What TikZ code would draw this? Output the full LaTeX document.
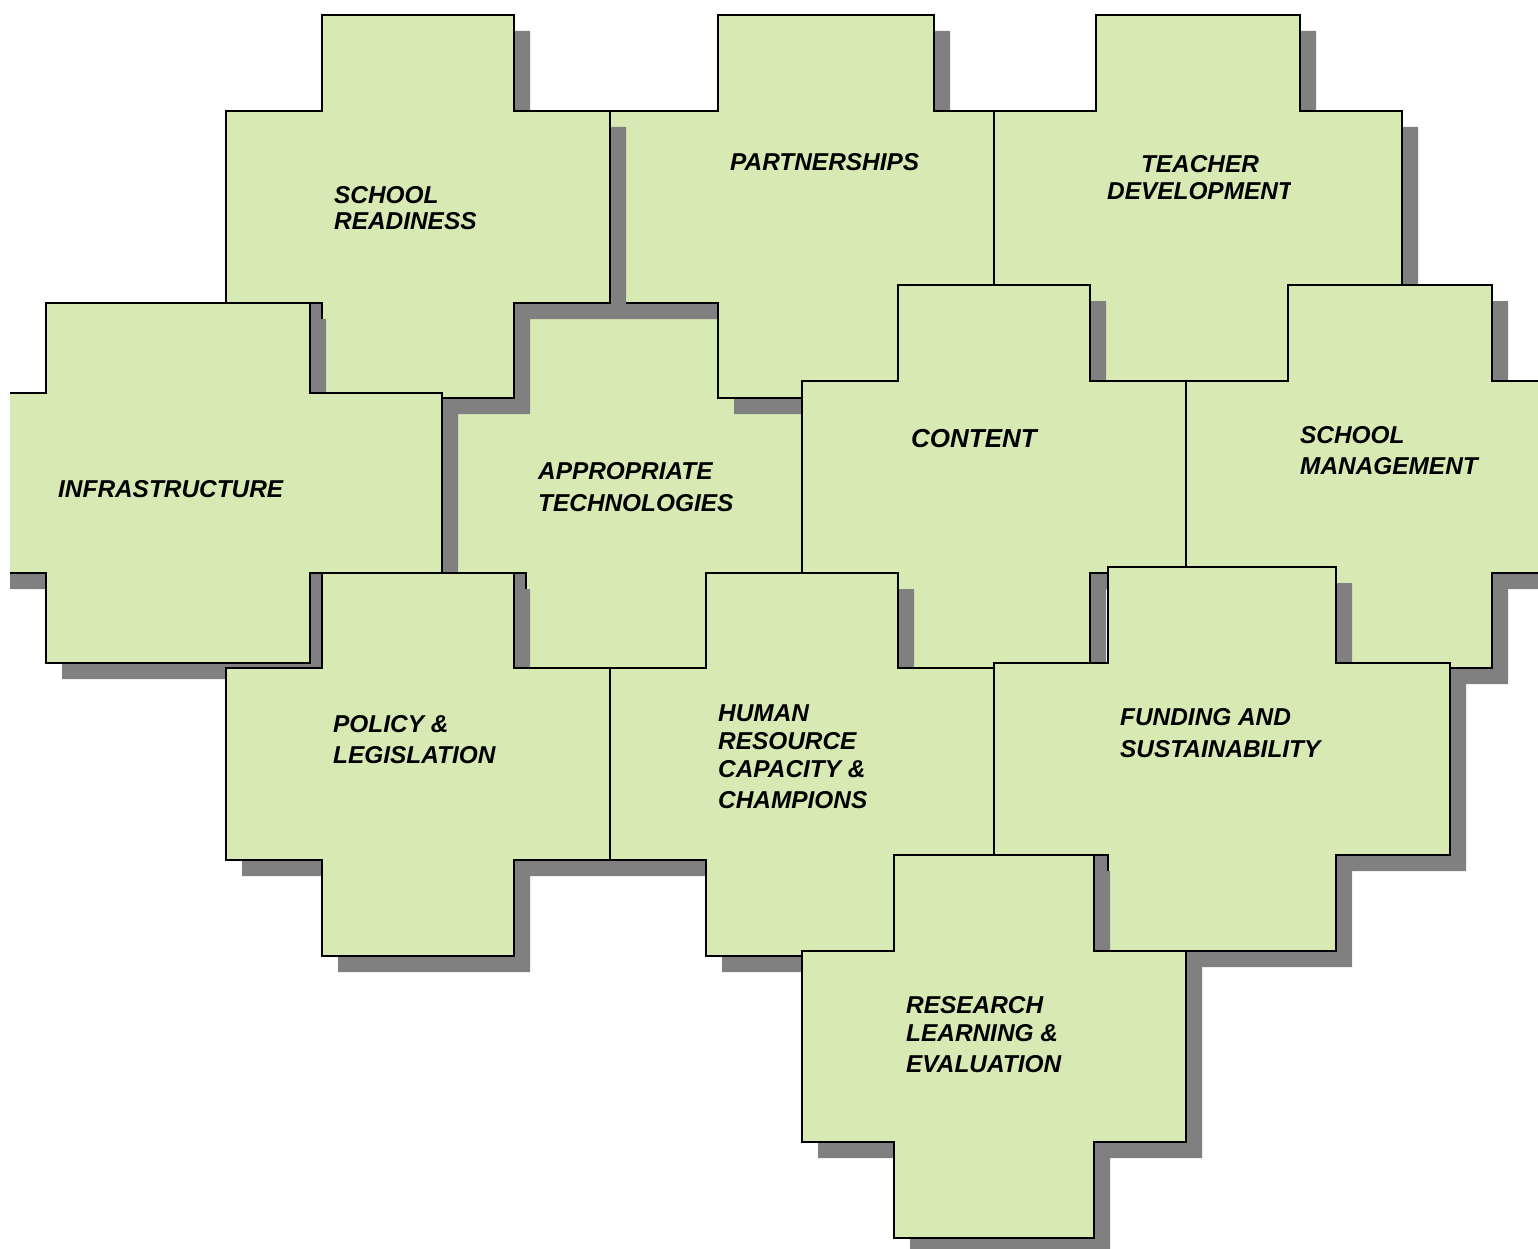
\documentclass[tikz,border=0pt]{standalone}
\usepackage{fontspec}
\setmainfont{Liberation Sans}
\definecolor{leaf}{RGB}{216,234,180}
\definecolor{castgray}{RGB}{128,128,128}
\tikzset{
  tile/.style={fill=leaf, draw=black, line width=1.3pt},
  tilecast/.style={fill=castgray},
  tilelabel/.style={inner sep=0pt, anchor=base west, align=left,
    font=\fontsize{24.4}{28}\selectfont\bfseries\itshape},
}
% cross tile: tab left, tab right, body left, body right, top, body top, body bottom, bottom
\newcommand{\crosstile}[8]{%
  \fill[tilecast, shift={(16,16)}] (#1,#5) -- (#2,#5) -- (#2,#6) -- (#4,#6) -- (#4,#7) -- (#2,#7)
    -- (#2,#8) -- (#1,#8) -- (#1,#7) -- (#3,#7) -- (#3,#6) -- (#1,#6) -- cycle;
  \filldraw[tile] (#1,#5) -- (#2,#5) -- (#2,#6) -- (#4,#6) -- (#4,#7) -- (#2,#7)
    -- (#2,#8) -- (#1,#8) -- (#1,#7) -- (#3,#7) -- (#3,#6) -- (#1,#6) -- cycle;}
\begin{document}
\begin{tikzpicture}[x=1pt, y=-1pt]
    \useasboundingbox (0,0) rectangle (1538,1249);
    \clip (10,0) rectangle (1538,1249);

    % tiles, back to front
    \crosstile{526}{718}{442}{802}{305}{398}{573}{668}   % appropriate technologies
    \crosstile{718}{934}{610}{994}{15}{111}{303}{398}    % partnerships
    \crosstile{322}{514}{226}{610}{15}{111}{303}{398}    % school readiness
    \crosstile{1096}{1300}{994}{1402}{15}{111}{303}{398} % teacher development
    \crosstile{46}{310}{-50}{442}{303}{393}{573}{663}    % infrastructure
    \crosstile{322}{514}{226}{610}{573}{668}{860}{956}   % policy
    \crosstile{898}{1090}{802}{1186}{285}{381}{573}{668} % content
    \crosstile{1288}{1492}{1186}{1594}{285}{381}{573}{668} % school management
    \crosstile{706}{898}{610}{994}{573}{668}{860}{956}   % human resource
    \crosstile{1108}{1336}{994}{1450}{567}{663}{855}{951} % funding
    \crosstile{894}{1094}{802}{1186}{855}{951}{1142}{1238} % research

    % labels (multi-line ones sit on their last baseline)
    \node[tilelabel] (readiness) at (334,230) {SCHOOL\\[-2pt]READINESS};
    \node[tilelabel] (partners) at (730,171) {PARTNERSHIPS};
    \begin{scope}
        \clip (1000,100) rectangle (1290,260);
        \node[tilelabel, anchor=base, align=center] (teacher) at (1200,200) {TEACHER\\[-1pt]DEVELOPMENT};
    \end{scope}
    \node[tilelabel] (infra) at (58,497) {INFRASTRUCTURE};
    \node[tilelabel] (apptech) at (538,511) {APPROPRIATE\\[4pt]TECHNOLOGIES};
    \node[tilelabel, font=\fontsize{26}{30}\selectfont\bfseries\itshape] (content) at (911,447) {CONTENT};
    \node[tilelabel] (management) at (1300,474) {SCHOOL\\[3pt]MANAGEMENT};
    \node[tilelabel] (policy) at (333,763) {POLICY \&\\[3pt]LEGISLATION};
    \node[tilelabel] (human) at (718,808) {HUMAN\\RESOURCE\\CAPACITY \&\\[3pt]CHAMPIONS};
    \node[tilelabel] (funding) at (1120,757) {FUNDING AND\\[4pt]SUSTAINABILITY};
    \node[tilelabel] (research) at (906,1072) {RESEARCH\\LEARNING \&\\[3pt]EVALUATION};
\end{tikzpicture}
\end{document}
